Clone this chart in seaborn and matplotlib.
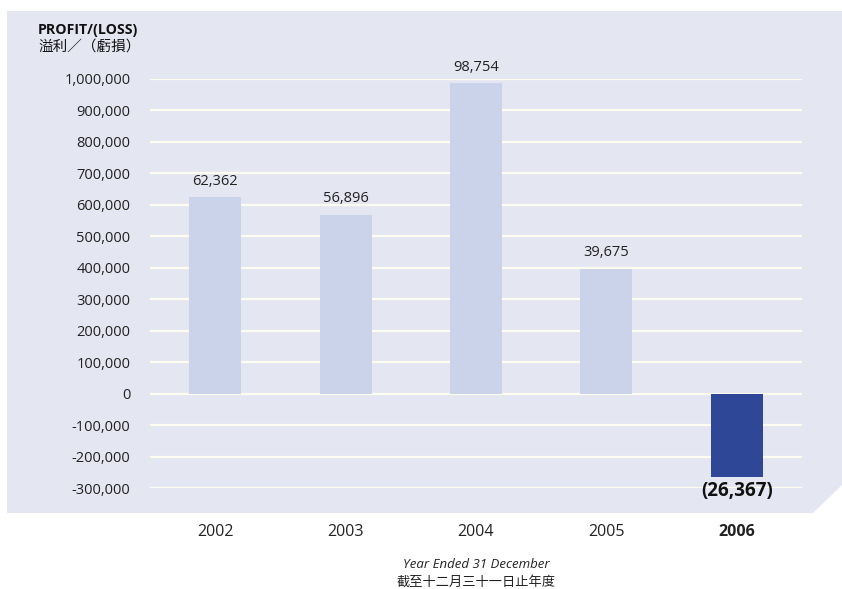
import matplotlib
matplotlib.use("Agg")
import matplotlib.pyplot as plt
import seaborn as sns
import pandas as pd
from matplotlib.patches import Polygon

years = ["2002", "2003", "2004", "2005", "2006"]
values = [623620, 568960, 987540, 396750, -263670]
bar_labels = ["62,362", "56,896", "98,754", "39,675", "(26,367)"]
yticks = [-300000, -200000, -100000, 0, 100000, 200000, 300000, 400000,
          500000, 600000, 700000, 800000, 900000, 1000000]
ytick_labels = ["-300,000", "-200,000", "-100,000", "0", "100,000", "200,000",
                "300,000", "400,000", "500,000", "600,000", "700,000",
                "800,000", "900,000", "1,000,000"]
bar_colors = ["#cbd3ea", "#cbd3ea", "#cbd3ea", "#cbd3ea", "#2e4797"]

sns.set_theme(style="white")
plt.rcParams["font.family"] = ["Open Sans", "Noto Sans CJK TC", "DejaVu Sans"]

W, H = 842, 589
fig = plt.figure(figsize=(W / 100, H / 100), dpi=100)

def fx(px):
    return px / W

def fy(py):
    return 1 - py / H

# background panel with cut corner
panel = Polygon([(fx(7), fy(11)), (fx(842), fy(11)), (fx(842), fy(485)),
                 (fx(813), fy(513)), (fx(7), fy(513))],
                closed=True, transform=fig.transFigure, facecolor="#e4e7f1",
                edgecolor="none", zorder=-5)
fig.patches.append(panel)

left, right, top, bottom = 150, 802, 79, 488
ax = fig.add_axes([fx(left), fy(bottom), fx(right) - fx(left), (bottom - top) / H])
ax.set_zorder(2)
ax.set_facecolor("none")
ax.patch.set_alpha(0)

df = pd.DataFrame({"year": years, "value": values})
sns.barplot(data=df, x="year", y="value", hue="year", palette=bar_colors,
            width=0.4, legend=False, ax=ax, saturation=1, zorder=3,
            linewidth=0, edgecolor="none")

ax.set_xlim(-0.5, 4.5)
ax.set_ylim(-300000, 1000000)
ax.set_yticks(yticks)
ax.set_yticklabels(ytick_labels, fontsize=10.5, color="#222222")
for t in yticks:
    ax.axhline(t, color="#fefcee", lw=1.6, zorder=1)
ax.tick_params(axis="y", length=0, pad=14)
ax.tick_params(axis="x", length=0, pad=26)
ax.set_xticks(range(len(years)))
ax.set_xticklabels(years, fontsize=11.5, color="#222222")
ax.get_xticklabels()[-1].set_fontweight("bold")
ax.set_xlabel("")
ax.set_ylabel("")
for s in ax.spines.values():
    s.set_visible(False)

for i, (v, lab) in enumerate(zip(values, bar_labels)):
    if v >= 0:
        ax.annotate(lab, (i, v), xytext=(0, 6), textcoords="offset points",
                    ha="center", va="bottom", fontsize=10.5, color="#222222",
                    annotation_clip=False)
    else:
        ax.annotate(lab, (i, v), xytext=(0, -3), textcoords="offset points",
                    ha="center", va="top", fontsize=13.5, fontweight="bold",
                    color="#111111", annotation_clip=False)

fig.text(fx(38), fy(30), "PROFIT/(LOSS)", ha="left", va="center",
         fontsize=10.2, fontweight="bold", color="#111111")
fig.text(fx(38), fy(47), "溢利／（虧損）", ha="left", va="center",
         fontsize=10.5, color="#111111",
         family=["Noto Sans CJK TC", "DejaVu Sans"])

fig.text(fx(476), fy(565), "Year Ended 31 December", ha="center", va="center",
         fontsize=9.5, style="italic", color="#222222")
fig.text(fx(476), fy(582), "截至十二月三十一日止年度", ha="center", va="center",
         fontsize=9.5, style="italic", color="#222222",
         family=["Noto Sans CJK TC", "DejaVu Sans"])

fig.savefig("out.png", dpi=100)
